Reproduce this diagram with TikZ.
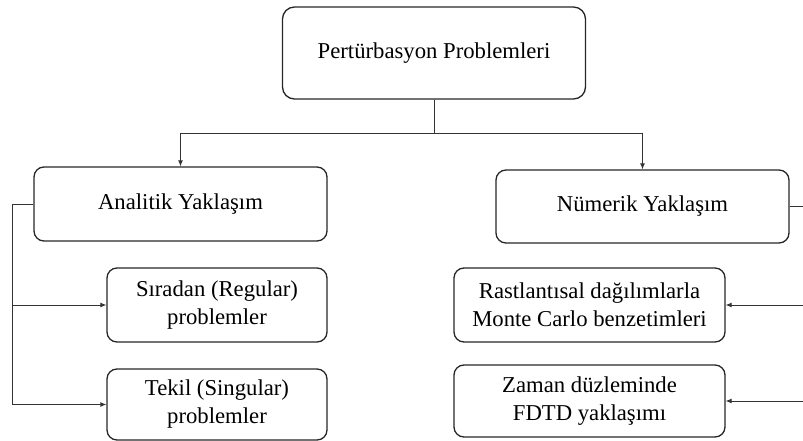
\documentclass[tikz,border=0pt]{standalone}
\usepackage{fontspec}
\setmainfont{Liberation Serif}
\usetikzlibrary{arrows.meta}
\begin{document}
\begin{tikzpicture}[x=1pt,y=-1pt,
  box/.style={draw=black!85, line width=1.3pt, rounded corners=10pt, align=center,
    inner sep=0pt, font=\fontsize{22.7}{28}\selectfont},
  link/.style={draw=black!80, line width=0.9pt},
  arr/.style={link, -{Latex[length=6pt,width=5pt]}}]
\useasboundingbox (0,0) rectangle (803,441);

% tree nodes
\node[box, rounded corners=12pt, minimum width=303pt, minimum height=92pt] (top) at (434,53) {Pertürbasyon Problemleri};
\node[box, minimum width=293pt, minimum height=74pt] (ana) at (180.5,204) {Analitik Yaklaşım};
\node[box, minimum width=293pt, minimum height=73pt] (num) at (642.5,206.5) {Nümerik Yaklaşım};
\node[box, minimum width=220pt, minimum height=74pt] (sir) at (217,305) {Sıradan (Regular)\\problemler};
\node[box, minimum width=220pt, minimum height=71pt] (tek) at (217,404.5) {Tekil (Singular)\\problemler};
\node[box, minimum width=271pt, minimum height=74pt] (ras) at (589.5,305) {Rastlantısal dağılımlarla\\Monte Carlo benzetimleri};
\node[box, minimum width=271pt, minimum height=72pt] (zam) at (589.5,401) {Zaman düzleminde\\FDTD yaklaşımı};

% split below the root
\coordinate (j) at (top.south |- 0,133);
\draw[link] (top.south) -- (j);
\draw[arr] (j) -| (ana.north);
\draw[arr] (j) -| (num.north);

% left side bus
\coordinate (lb) at (12,0);
\draw[link] (ana.west) -- (ana.west -| lb) -- (lb |- tek.west);
\draw[arr] (lb |- sir.west) -- (sir.west);
\draw[arr] (lb |- tek.west) -- (tek.west);

% right side bus
\coordinate (rb) at (812,0);
\draw[link] (num.east) -- (num.east -| rb) -- (rb |- zam.east);
\draw[arr] (rb |- ras.east) -- (ras.east);
\draw[arr] (rb |- zam.east) -- (zam.east);
\end{tikzpicture}
\end{document}
